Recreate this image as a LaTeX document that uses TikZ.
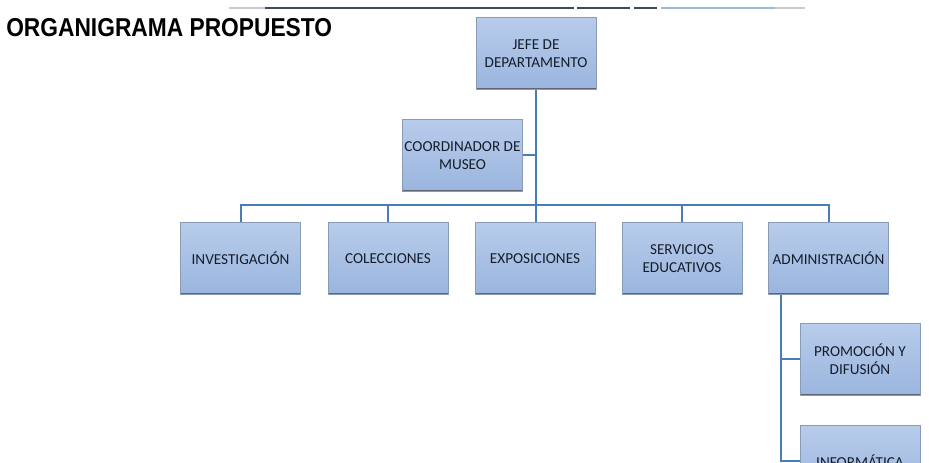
\documentclass[tikz,border=0pt]{standalone}
\usepackage{fontspec}
\setmainfont{Carlito}
\newfontfamily\titlefont{Liberation Sans}
\begin{document}
\begin{tikzpicture}[x=0.75pt,y=-0.75pt,
  unit/.style={rectangle, inner sep=0pt, align=center,
    minimum width=90pt, minimum height=54.5pt,
    top color=boxtop, bottom color=boxbot, draw=boxedge, line width=0.6pt,
    text=labeltext, font=\fontsize{11.4pt}{13.5pt}\selectfont,
    path picture={
      \draw[edgedark, line width=1.6pt]
        (path picture bounding box.north west) -- (path picture bounding box.north east);
      \draw[edgedark, line width=3.2pt]
        (path picture bounding box.south west) -- (path picture bounding box.south east);
    }},
  conn/.style={draw=linkblue, line width=1.5pt},
  rule/.style={line width=1.8pt}
]
\definecolor{boxtop}{HTML}{B8CCEB}
\definecolor{boxbot}{HTML}{9AB5DE}
\definecolor{boxedge}{HTML}{8A9BB5}
\definecolor{edgedark}{HTML}{5E6470}
\definecolor{labeltext}{HTML}{161D2B}
\definecolor{linkblue}{HTML}{4A7DB6}
\definecolor{ruledark}{HTML}{3E4A58}
\definecolor{rulegray}{HTML}{C8CCD2}
\definecolor{ruleblue}{HTML}{9EB9D6}

\useasboundingbox (0,0) rectangle (929,463);
\clip (0,0) rectangle (929,463);
\fill[white] (0,0) rectangle (929,463);

% header rule
\draw[rule, rulegray]  (229,8) -- (265,8);
\draw[rule, ruledark]  (265,8) -- (574,8);
\draw[rule, ruledark]  (577,8) -- (630,8);
\draw[rule, ruledark]  (634,8) -- (657,8);
\draw[rule, ruleblue]  (661,8) -- (775,8);
\draw[rule, rulegray]  (775,8) -- (805,8);

% title
\node[anchor=west, inner sep=0pt] (title) at (6,28)
  {\scalebox{0.88}[1]{\titlefont\bfseries\fontsize{19.4pt}{21pt}\selectfont ORGANIGRAMA PROPUESTO}};

% units
\node[unit] (jefe)  at (536,53.5)   {JEFE DE\\DEPARTAMENTO};
\node[unit] (coord) at (462.5,155.5) {COORDINADOR DE\\MUSEO};
\node[unit] (inv)   at (240.5,258.5) {INVESTIGACIÓN};
\node[unit] (col)   at (388,258.5)   {COLECCIONES};
\node[unit] (exp)   at (535,258.5)   {EXPOSICIONES};
\node[unit] (srv)   at (682,258.5)   {SERVICIOS\\EDUCATIVOS};
\node[unit] (adm)   at (828.5,258.5) {ADMINISTRACIÓN};
\node[unit] (promo) at (860,359.5)   {PROMOCIÓN Y\\DIFUSIÓN};
\node[unit] (info)  at (860,461.5)   {INFORMÁTICA};

% connectors
\coordinate (bus) at (536,205);
\coordinate (admstem) at (781,295);
\draw[conn] (jefe.south) -- (jefe.south |- exp.north);
\draw[conn] (coord.east) -- (coord.east -| jefe.south);
\draw[conn] (inv.north) |- (bus) -| (adm.north);
\draw[conn] (col.north) -- (col.north |- bus);
\draw[conn] (srv.north) -- (srv.north |- bus);
\draw[conn] (admstem) |- (promo.west);
\draw[conn] (admstem) |- (info.west);
\end{tikzpicture}
\end{document}
